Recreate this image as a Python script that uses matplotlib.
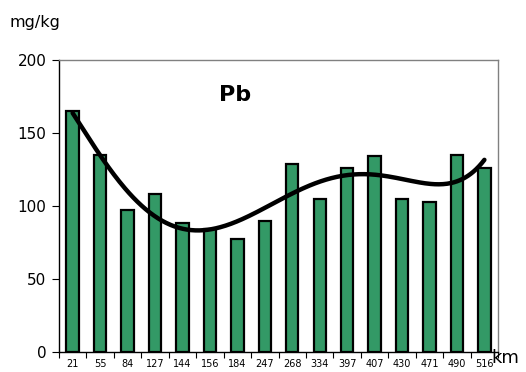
import numpy as np
import matplotlib
matplotlib.use("Agg")
import matplotlib.pyplot as plt

# Pb concentration along the river (km)
km_labels = ["21", "55", "84", "127", "144", "156", "184", "247", "268",
             "334", "397", "407", "430", "471", "490", "516"]
pb_values = [165, 135, 97, 108, 88, 84, 77, 90, 129, 105, 126, 134, 105, 103, 135, 126]
trend_order = 6

fig = plt.figure(figsize=(5.26, 3.72), dpi=100)
ax = fig.add_axes([0.112, 0.054, 0.835, 0.785])

x = np.arange(len(km_labels))
ax.bar(x, pb_values, width=0.45, color="#339966", edgecolor="black",
       linewidth=1.6, zorder=2)

# polynomial trend line over the station index (1-based)
coef = np.polyfit(x + 1, pb_values, trend_order)
xs = np.linspace(0, len(km_labels) - 1, 300)
ax.plot(xs, np.polyval(coef, xs + 1), color="black", linewidth=3.2, zorder=3,
        solid_capstyle="round")

ax.set_xlim(-0.5, len(km_labels) - 0.5)
ax.set_ylim(0, 200)
ax.set_yticks([0, 50, 100, 150, 200])
ax.tick_params(axis="y", labelsize=11, length=5, width=0.8, direction="out", pad=4)

ax.set_xticks(x)
ax.set_xticklabels(km_labels, fontsize=7)
ax.tick_params(axis="x", which="major", length=0, pad=5)
ax.set_xticks(np.arange(-0.5, len(km_labels), 1.0), minor=True)
ax.tick_params(axis="x", which="minor", length=4, width=0.8, direction="out")

for side in ("top", "right"):
    ax.spines[side].set_color("#808080")
    ax.spines[side].set_linewidth(1.0)
for side in ("left", "bottom"):
    ax.spines[side].set_color("black")
    ax.spines[side].set_linewidth(1.0)

ax.text(0.40, 0.88, "Pb", transform=ax.transAxes, fontsize=16,
        fontweight="bold", ha="center", va="center")
fig.text(0.019, 0.94, "mg/kg", fontsize=11.5, ha="left", va="center")
fig.text(0.935, 0.038, "km", fontsize=13, ha="left", va="center")

fig.savefig("out.png", dpi=100)
